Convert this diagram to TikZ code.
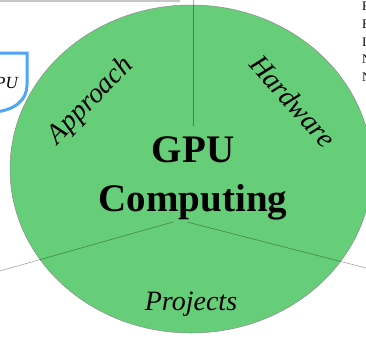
\documentclass[tikz,border=0pt]{standalone}
\usepackage{fontspec}
\setmainfont{Liberation Serif}
\definecolor{sectgreen}{RGB}{102,206,120}
\definecolor{shieldblue}{RGB}{80,165,245}
\begin{document}
\begin{tikzpicture}[x=1pt,y=-1pt,
  divider/.style={draw=black,draw opacity=0.35,line width=0.6pt},
  sectlabel/.style={font=\fontsize{28}{32}\selectfont\itshape,inner sep=0pt},
  sidetext/.style={font=\fontsize{13}{15}\selectfont,anchor=base west,inner sep=0pt}]
\useasboundingbox (0,0) rectangle (366,337);
\clip (0,0) rectangle (366,337);
% top frame line
\draw[black!22,line width=2pt] (0,1) -- (180,1);
% shield at left
\draw[shieldblue,line width=3pt] (-5,53) -- (27,53) -- (27,85)
  .. controls (27,100) and (15,110) .. (-5,112);
\node[font=\fontsize{17}{19}\selectfont\itshape,anchor=base east,inner sep=0pt] (gpu) at (18,88) {PU};
% the disc
\fill[sectgreen,draw=black!45,line width=0.5pt] (191,169) ellipse [x radius=181pt, y radius=164pt];
% dividers
\coordinate (ctop) at (193,126);
\coordinate (cleft) at (173,222);
\coordinate (cright) at (187,222);
\coordinate (etop) at (193,-2);
\coordinate (eleft) at (-2,271.5);
\coordinate (eright) at (368,268.5);
\draw[divider] (ctop) -- (etop);
\draw[divider] (cleft) -- (eleft);
\draw[divider] (cright) -- (eright);
% title
\node[font=\fontsize{39}{49}\selectfont\bfseries,align=center,inner sep=0pt] (title) at (193,178) {GPU\\Computing};
% sector labels
\node[sectlabel,rotate=46] (approach) at (91,101) {Approach};
\node[sectlabel,rotate=-48] (hardware) at (293,101) {Hardware};
\node[sectlabel,anchor=base] (projects) at (191,310) {Projects};
% cut-off text at right
\node[sidetext] (r1) at (362,11) {F};
\node[sidetext] (r2) at (362,28.5) {F};
\node[sidetext] (r3) at (362,46) {I};
\node[sidetext] (r4) at (362,63.5) {N};
\node[sidetext] (r5) at (362,81) {N};
\end{tikzpicture}
\end{document}
